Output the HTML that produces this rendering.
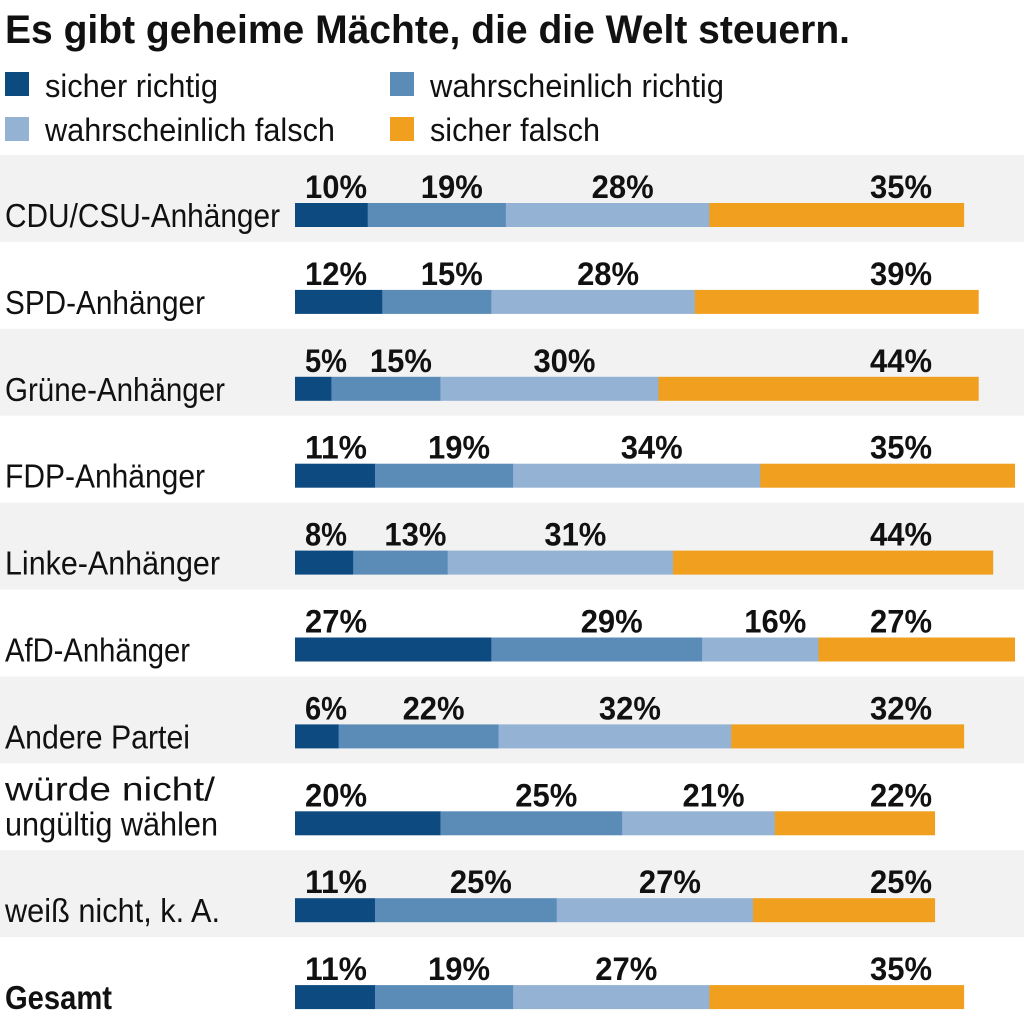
<!DOCTYPE html>
<html><head><meta charset="utf-8"><style>
html,body{margin:0;padding:0;background:#fff;}
svg{display:block;font-family:"Liberation Sans Narrow","Liberation Sans",sans-serif;}
</style></head><body>
<svg id="chart" width="1024" height="1024" viewBox="0 0 1024 1024" xmlns="http://www.w3.org/2000/svg">
<text x="5" y="43" font-size="40" font-weight="bold" textLength="845" lengthAdjust="spacingAndGlyphs" fill="#111">Es gibt geheime Mächte, die die Welt steuern.</text>
<g>
<g><rect x="5" y="72" width="24" height="24" fill="#0d4a80"/><text x="45" y="97" font-size="32" textLength="173" lengthAdjust="spacingAndGlyphs" fill="#111">sicher richtig</text></g>
<g><rect x="390" y="72" width="24" height="24" fill="#5b8cb8"/><text x="430" y="97" font-size="32" textLength="294" lengthAdjust="spacingAndGlyphs" fill="#111">wahrscheinlich richtig</text></g>
<g><rect x="5" y="117" width="24" height="24" fill="#93b2d4"/><text x="45" y="141" font-size="32" textLength="290" lengthAdjust="spacingAndGlyphs" fill="#111">wahrscheinlich falsch</text></g>
<g><rect x="390" y="117" width="24" height="24" fill="#f0a01e"/><text x="430" y="141" font-size="32" textLength="170" lengthAdjust="spacingAndGlyphs" fill="#111">sicher falsch</text></g>
</g>
<g id="rows"></g>
</svg>
<script>
const categories = ["CDU/CSU-Anhänger","SPD-Anhänger","Grüne-Anhänger","FDP-Anhänger","Linke-Anhänger","AfD-Anhänger","Andere Partei","würde nicht/|ungültig wählen","weiß nicht, k. A.","Gesamt"];
const sicherRichtig = [10,12,5,11,8,27,6,20,11,11];
const wahrRichtig = [19,15,15,19,13,29,22,25,25,19];
const wahrFalsch = [28,28,30,34,31,16,32,21,27,27];
const sicherFalsch = [35,39,44,35,44,27,32,22,25,35];

const series = [sicherRichtig, wahrRichtig, wahrFalsch, sicherFalsch];
const colors = ["#0d4a80","#5b8cb8","#93b2d4","#f0a01e"];
const seriesNames = ["sicher-richtig","wahrscheinlich-richtig","wahrscheinlich-falsch","sicher-falsch"];
const labelWidths = [275,200,220,200,215,185,185,[210,213],215,107];
const x0 = 295, pxPer = 7.27, rowTop = 155, rowH = 86.9;
const xScale = v => x0 + v * pxPer;
const NS = "http://www.w3.org/2000/svg";
const g = document.getElementById("rows");
function mk(tag, attrs){ const e=document.createElementNS(NS,tag); for(const k in attrs) e.setAttribute(k,attrs[k]); return e; }

categories.forEach((cat, i) => {
  const top = rowTop + i * rowH;
  const row = mk("g", {});
  
  
  if (i % 2 === 0) {
    const bg = mk("rect", {x:0, y:top, width:1024, height:rowH, fill:"#f2f2f2"});
    
    
    row.appendChild(bg);
  }
  const lines = cat.split("|");
  const bold = i === categories.length - 1;
  lines.forEach((ln, j) => {
    const w = Array.isArray(labelWidths[i]) ? labelWidths[i][j] : labelWidths[i];
    const t = mk("text", {x:5, y: top + (lines.length === 1 ? 72 : 37 + j*35), "font-size":33, fill:"#111", "font-weight": bold ? "bold" : "normal", textLength:w, lengthAdjust:"spacingAndGlyphs"});
    
    
    t.textContent = ln;
    row.appendChild(t);
  });
  let cum = 0;
  series.forEach((s, k) => {
    const v = s[i];
    const xa = xScale(cum), xb = xScale(cum + v);
    const r = mk("rect", {x:xa, y:top+48, width:xb-xa+0.3, height:24, fill:colors[k]});
    
    
    row.appendChild(r);
    let tx, anchor;
    if (k === 0) { tx = 305; anchor = "start"; }
    else if (k === 3) { tx = 932; anchor = "end"; }
    else { tx = (xa + xb) / 2 + 15; anchor = "middle"; }
    const lw = String(v).length === 1 ? 42 : 62;
    const lt = mk("text", {x:tx, y:top+43, "font-size":32, "font-weight":"bold", fill:"#111", "text-anchor":anchor, textLength:lw, lengthAdjust:"spacingAndGlyphs"});
    
    
    lt.textContent = v + "%";
    row.appendChild(lt);
    cum += v;
  });
  g.appendChild(row);
});
</script>
</body></html>
